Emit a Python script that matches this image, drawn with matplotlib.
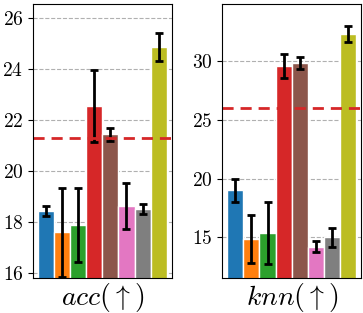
import matplotlib
matplotlib.use('Agg')
import matplotlib.pyplot as plt

plt.rcParams['mathtext.fontset'] = 'cm'
plt.rcParams['font.family'] = 'serif'
plt.rcParams['font.serif'] = ['cmr10']
plt.rcParams['axes.formatter.use_mathtext'] = True

colors = ['tab:blue', 'tab:orange', 'tab:green', 'tab:red',
          'tab:brown', 'tab:pink', 'tab:gray', 'tab:olive']

acc_vals = [18.45, 17.6, 17.9, 22.55, 21.45, 18.65, 18.5, 24.85]
acc_err = [0.2, 1.75, 1.45, 1.4, 0.25, 0.9, 0.2, 0.55]
acc_ref = 21.3

knn_vals = [19.0, 14.85, 15.35, 29.6, 29.85, 14.2, 15.0, 32.35]
knn_err = [0.95, 2.05, 2.65, 1.0, 0.5, 0.5, 0.8, 0.7]
knn_ref = 26.0

panels = [
    (acc_vals, acc_err, acc_ref, r'$acc(\uparrow)$', (15.8, 26.55), [16, 18, 20, 22, 24, 26]),
    (knn_vals, knn_err, knn_ref, r'$knn(\uparrow)$', (11.5, 34.9), [15, 20, 25, 30]),
]

fig = plt.figure(figsize=(3.63, 3.13), dpi=100)
rects = [[0.0909, 0.111, 0.382, 0.876], [0.6125, 0.111, 0.382, 0.876]]

for rect, (vals, errs, ref, label, ylim, ticks) in zip(rects, panels):
    ax = fig.add_axes(rect)
    x = list(range(len(vals)))
    ax.bar(x, vals, width=1.0, color=colors, edgecolor='white', linewidth=1)
    ax.errorbar(x, vals, yerr=errs, fmt='none', ecolor='black',
                elinewidth=2, capsize=3, capthick=2)
    ax.axhline(ref, color='tab:red', linestyle='--', linewidth=2, dashes=(4, 2.5))
    ax.set_xlim(-0.81, 7.81)
    ax.set_ylim(*ylim)
    ax.set_yticks(ticks)
    ax.set_xticks([])
    ax.set_axisbelow(True)
    ax.yaxis.grid(True, linestyle='--', color='#b0b0b0', linewidth=0.8)
    ax.tick_params(axis='y', labelsize=14)
    ax.set_xlabel(label, fontsize=20, labelpad=2)

plt.savefig('out.png', dpi=100)
